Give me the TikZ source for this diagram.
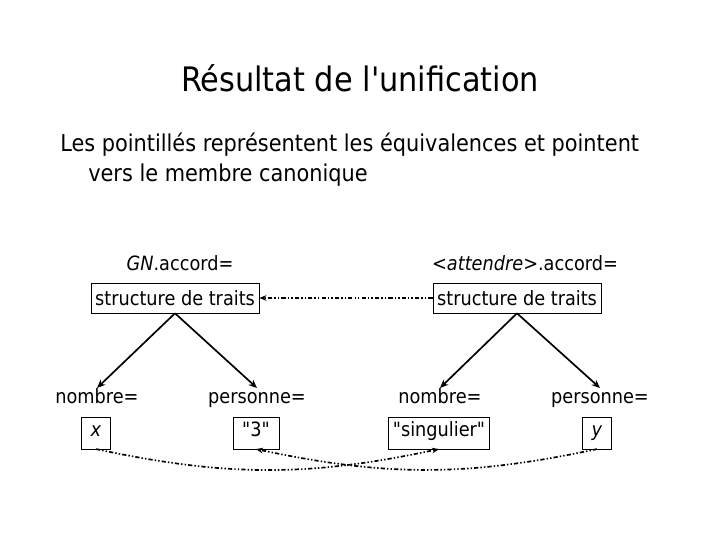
\documentclass[tikz,border=0pt]{standalone}
\usepackage{fontspec}
\setmainfont[Ligatures=TeXOff]{DejaVu Sans Condensed}
\usetikzlibrary{arrows.meta}
\begin{document}
\begin{tikzpicture}[
  every node/.style={font=\fontsize{14}{16}\selectfont},
  etiq/.style={text height=.75em,text depth=.25em},
  trait/.style={draw,rectangle,inner sep=3pt,minimum height=.75cm},
  valeur/.style={draw,rectangle,inner xsep=6.5pt,inner ysep=3pt,minimum height=.8cm,text height=.75em,text depth=.25em},
  fleche/.style={line width=1.2pt,-{Stealth[length=6pt,width=5pt]}},
  equiv/.style={line width=1.2pt,-{Stealth[length=5pt,width=4pt]},
    dash pattern=on 3pt off 1.5pt on 1pt off 1.5pt on 1pt off 1.5pt}]
  \useasboundingbox (0,0) rectangle (18,13.5);
  \draw (9,11.55) node[font=\fontsize{24}{28}\selectfont] (titre) {Résultat de l'unification};
  \draw (1.5,9.875) node[anchor=west,font=\fontsize{16.5}{20}\selectfont,inner sep=0pt] (ligne1)
       {Les pointillés représentent les équivalences et pointent};
  \draw (2.2,9.125) node[anchor=west,font=\fontsize{16.5}{20}\selectfont,inner sep=0pt] (ligne2)
       {vers le membre canonique};

  \draw (4.5,6.83) node[etiq] (GN) {\textit{GN}.accord=};
  \draw (13.125,6.83) node[etiq] (att) {\textit{<attendre>}.accord=};
  \draw (4.375,6.05) node[trait] (S1) {structure de traits};
  \draw (12.925,6.05) node[trait] (S2) {structure de traits};

  \draw (2.425,3.5) node[etiq] (nb1) {nombre=};
  \draw (6.425,3.5) node[etiq] (pers1) {personne=};
  \draw (11,3.5) node[etiq] (nb2) {nombre=};
  \draw (15,3.5) node[etiq] (pers2) {personne=};

  \draw (2.4,2.68) node[valeur] (x) {\textit{x}};
  \draw (6.4,2.68) node[valeur] (trois) {"3"};
  \draw (10.975,2.68) node[valeur,inner xsep=3pt] (sing) {"singulier"};
  \draw (14.925,2.68) node[valeur] (y) {\textit{y}};

  \draw[fleche] (S1.south) -- (nb1.north);
  \draw[fleche] (S1.south) -- (pers1.north);
  \draw[fleche] (S2.south) -- (nb2.north);
  \draw[fleche] (S2.south) -- (pers2.north);

  \draw[equiv] (S2.west) -- (S1.east);
  \draw[equiv] (x.south) to[out=-12,in=-168] (sing.south);
  \draw[equiv] (y.south) to[out=-168,in=-12] (trois.south);
\end{tikzpicture}
\end{document}
